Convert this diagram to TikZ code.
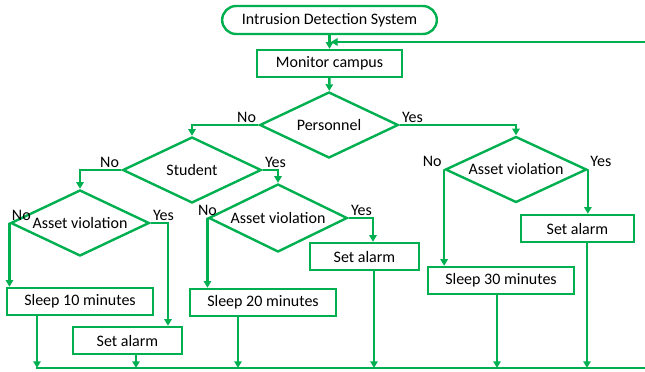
\documentclass[tikz,border=0pt]{standalone}
\usepackage{fontspec}
\setmainfont{Carlito}
\usetikzlibrary{shapes.geometric,arrows.meta,calc}
\definecolor{flowgreen}{RGB}{0,176,80}
\tikzset{
  base/.style={draw=flowgreen, line width=1.8pt, font=\fontsize{12}{14}\selectfont, inner sep=0pt},
  term/.style={base, rounded corners=10.5pt, minimum width=161pt, minimum height=21pt},
  proc/.style={base, minimum height=20.25pt},
  decide/.style={base, diamond, shape aspect=2, minimum width=104pt, minimum height=49.5pt},
  flow/.style={draw=flowgreen, line width=1.8pt, -{Triangle[length=5pt,width=5.5pt]}},
  lbl/.style={font=\fontsize{12}{14}\selectfont, inner sep=1pt}
}
\begin{document}
\begin{tikzpicture}[x=0.75pt,y=-0.75pt]
\clip (0,0) rectangle (645,371);
\node[term] (start) at (329.5,20) {Intrusion Detection System};
\node[proc, minimum width=108.75pt] (monitor) at (329.5,63.5) {Monitor campus};
\node[decide] (personnel) at (329,125) {Personnel};
\node[decide] (student) at (192,170) {Student};
\node[decide] (assetA) at (80,223) {Asset violation};
\node[decide, minimum height=51pt] (assetB) at (278,218) {Asset violation};
\node[decide, minimum width=106pt] (assetC) at (516,169.5) {Asset violation};
\node[proc, minimum width=109.5pt] (sleepA) at (80,301.5) {Sleep 10 minutes};
\node[proc, minimum width=82pt] (alarmA) at (127.5,340.5) {Set alarm};
\node[proc, minimum width=109.5pt] (sleepB) at (263,302.5) {Sleep 20 minutes};
\node[proc, minimum width=82pt] (alarmB) at (364.5,256.5) {Set alarm};
\node[proc, minimum width=109.5pt] (sleepC) at (501,280.5) {Sleep 30 minutes};
\node[proc, minimum width=85pt] (alarmC) at (577.5,228.5) {Set alarm};

\coordinate (busL) at (36,368);
\coordinate (busR) at (660,368);
\coordinate (loopR) at (660,42);

\draw[flow] (start) -- (monitor);
\draw[flow] (monitor) -- (personnel);
\draw[flow] (personnel.west) node[lbl, above left] (pNo) {No} -| (student.north);
\draw[flow] (personnel.east) node[lbl, above right] (pYes) {Yes} -| (assetC.north);
\draw[flow] (student.west) node[lbl, above left] (sNo) {No} -| (assetA.north);
\draw[flow] (student.east) node[lbl, above right] (sYes) {Yes} -| (assetB.north);
\draw[flow] (assetA.west) node[lbl, above right] (aNo) {No} -- (assetA.west |- sleepA.north);
\draw[flow] (assetA.east) node[lbl, above right] (aYes) {Yes} -| ($(alarmA.north)+(40.5,0)$);
\draw[flow] (assetB.west) node[lbl, above] (bNo) {No} -- (assetB.west |- sleepB.north);
\draw[flow] (assetB.east) node[lbl, above right] (bYes) {Yes} -| ($(alarmB.north)+(8.5,0)$);
\draw[flow] (assetC.west) node[lbl, above left] (cNo) {No} -- (assetC.west |- sleepC.north);
\draw[flow] (assetC.east) node[lbl, above right] (cYes) {Yes} -- (assetC.east |- alarmC.north);

\foreach \n/\dx in {sleepA/-43, alarmA/8.5, sleepB/-25, alarmB/9.5, sleepC/-4, alarmC/9.5}
  \draw[flow] ($(\n.south)+(\dx,0)$) coordinate (t) -- (t |- busL);

\draw[flow, shorten >=1pt] (busL) -- (busR) -- (loopR) -- (monitor.north |- loopR);
\end{tikzpicture}
\end{document}
